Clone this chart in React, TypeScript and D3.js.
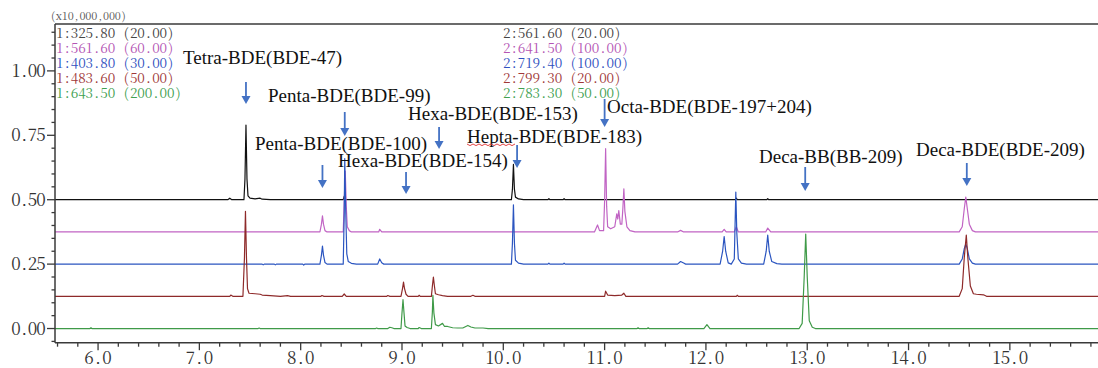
import React from "react";
import * as d3 from "d3";

// retention time (min) vs signal above each trace's own baseline (x10,000,000)
const trace325: [number, number][] = [
  [5.575, 0], [7.28, 0], [7.3, 0.006], [7.32, 0], [7.44, 0], [7.45, 0.08], [7.46, 0.29],
  [7.47, 0.08], [7.48, 0.015], [7.5, 0.006], [7.55, 0.003], [7.6, 0.006], [7.62, 0.002],
  [7.7, 0], [8.42, 0], [8.43, 0.014], [8.44, 0], [10.08, 0], [10.09, 0.04], [10.1, 0.137],
  [10.11, 0.04], [10.12, 0.01], [10.15, 0.003], [10.2, 0], [10.44, 0], [10.45, 0.004],
  [10.46, 0], [10.59, 0], [10.6, 0.004], [10.61, 0], [12.29, 0], [12.3, 0.006], [12.31, 0],
  [12.6, 0], [12.61, 0.004], [12.62, 0], [15.9, 0],
];
const trace561: [number, number][] = [
  [5.575, 0], [8.19, 0], [8.205, 0.03], [8.215, 0.062], [8.225, 0.03], [8.24, 0.005],
  [8.26, 0], [8.42, 0], [8.43, 0.12], [8.44, 0.236], [8.45, 0.1], [8.46, 0.02], [8.48, 0.005],
  [8.5, 0], [8.77, 0], [8.78, 0.01], [8.8, 0], [10.9, 0], [10.93, 0.027], [10.95, 0.005],
  [10.99, 0.005], [11.0, 0.12], [11.01, 0.323], [11.02, 0.1], [11.03, 0.02], [11.06, 0.012],
  [11.1, 0.02], [11.12, 0.07], [11.13, 0.05], [11.14, 0.083], [11.155, 0.03], [11.17, 0.03],
  [11.18, 0.09], [11.19, 0.167], [11.2, 0.08], [11.22, 0.02], [11.25, 0.005], [11.3, 0],
  [11.72, 0], [11.75, 0.006], [11.78, 0], [12.16, 0], [12.18, 0.01], [12.2, 0], [12.28, 0],
  [12.3, 0.02], [12.32, 0], [12.59, 0], [12.61, 0.015], [12.64, 0], [14.5, 0], [14.53, 0.02],
  [14.55, 0.09], [14.565, 0.135], [14.58, 0.09], [14.6, 0.03], [14.63, 0.005], [14.66, 0],
  [15.9, 0],
];
const trace403: [number, number][] = [
  [5.575, 0], [7.62, 0], [7.63, -0.003], [7.64, 0], [7.74, 0], [7.75, -0.003], [7.76, 0],
  [8.02, 0], [8.03, -0.004], [8.04, 0], [8.19, 0], [8.205, 0.035], [8.215, 0.07],
  [8.225, 0.035], [8.24, 0.006], [8.26, 0], [8.42, 0], [8.43, 0.2], [8.435, 0.41],
  [8.445, 0.2], [8.455, 0.04], [8.47, 0.01], [8.5, 0.003], [8.55, 0], [8.76, 0], [8.78, 0.02],
  [8.8, 0.005], [8.82, 0], [10.08, 0], [10.09, 0.08], [10.1, 0.23], [10.11, 0.08],
  [10.12, 0.015], [10.15, 0.004], [10.2, 0], [10.44, 0], [10.45, 0.004], [10.46, 0],
  [10.59, 0], [10.6, 0.004], [10.61, 0], [11.72, 0], [11.75, 0.01], [11.78, 0.004], [11.8, 0],
  [12.14, 0], [12.165, 0.05], [12.18, 0.107], [12.195, 0.05], [12.22, 0.005], [12.25, 0],
  [12.28, 0.02], [12.295, 0.28], [12.305, 0.12], [12.32, 0.02], [12.35, 0.004], [12.4, 0],
  [12.57, 0], [12.595, 0.05], [12.61, 0.113], [12.625, 0.05], [12.65, 0.01], [12.7, 0.002],
  [12.75, 0], [14.5, 0], [14.53, 0.02], [14.55, 0.06], [14.565, 0.078], [14.58, 0.06],
  [14.6, 0.02], [14.63, 0.004], [14.66, 0], [15.9, 0],
];
const trace483: [number, number][] = [
  [5.575, 0], [7.3, 0], [7.31, 0.005], [7.33, 0], [7.43, 0], [7.445, 0.15], [7.455, 0.33],
  [7.465, 0.15], [7.475, 0.03], [7.49, 0.012], [7.55, 0.01], [7.6, 0.008], [7.62, 0.005],
  [7.7, 0.003], [7.8, 0], [7.87, 0.003], [7.9, 0], [8.2, 0], [8.21, 0.003], [8.23, 0],
  [8.41, 0], [8.43, 0.009], [8.45, 0], [8.85, 0], [8.86, 0.003], [8.88, 0], [8.99, 0],
  [9.005, 0.03], [9.015, 0.055], [9.025, 0.03], [9.04, 0.008], [9.06, 0], [9.16, 0],
  [9.17, 0.004], [9.18, 0], [9.29, 0], [9.3, 0.04], [9.31, 0.075], [9.32, 0.04],
  [9.33, 0.01], [9.36, 0.006], [9.4, 0.003], [9.45, 0], [9.68, 0], [9.7, 0.004], [9.72, 0],
  [11.0, 0], [11.01, 0.02], [11.03, 0.005], [11.1, 0.003], [11.17, 0.005], [11.19, 0.012],
  [11.21, 0], [12.3, 0], [12.31, 0.004], [12.32, 0], [14.5, 0], [14.53, 0.03], [14.55, 0.15],
  [14.57, 0.238], [14.585, 0.15], [14.61, 0.04], [14.64, 0.01], [14.67, 0.008],
  [14.74, 0.006], [14.77, 0], [15.9, 0],
];
const trace643: [number, number][] = [
  [5.575, 0], [5.92, 0], [5.93, 0.003], [5.94, 0], [7.58, 0], [7.59, 0.002], [7.6, 0],
  [8.74, 0], [8.75, 0.002], [8.76, 0], [8.86, 0], [8.88, 0.005], [8.9, 0.003], [8.92, 0],
  [8.99, 0], [9.0, 0.06], [9.01, 0.112], [9.02, 0.06], [9.03, 0.01], [9.05, 0.004], [9.08, 0],
  [9.16, 0], [9.17, 0.004], [9.19, 0], [9.29, 0], [9.3, 0.065], [9.305, 0.129],
  [9.315, 0.06], [9.33, 0.015], [9.36, 0.01], [9.4, 0.02], [9.42, 0.008], [9.45, 0.008],
  [9.5, 0.003], [9.55, 0.002], [9.6, 0.002], [9.65, 0.012], [9.68, 0.006], [9.72, 0.002],
  [9.8, 0.002], [9.85, 0], [11.32, 0], [11.33, 0.003], [11.34, 0], [11.42, 0],
  [11.43, 0.003], [11.44, 0], [11.98, 0], [12.01, 0.015], [12.04, 0], [12.92, 0],
  [12.95, 0.02], [12.97, 0.2], [12.985, 0.367], [13.0, 0.2], [13.02, 0.03], [13.05, 0.005],
  [13.08, 0], [15.9, 0],
];

const traces = [trace325, trace561, trace403, trace483, trace643];
const baselines = [0.5, 0.375, 0.25, 0.125, 0.0];
const traceColors = ["#111111", "#c164c4", "#2b55c0", "#8e2a2a", "#3f9a48"];
const legendColors = ["#444444", "#b455b4", "#3050c0", "#a03838", "#40a050"];

const legend1 = ["1:325.80 (20.00)", "1:561.60 (60.00)", "1:403.80 (30.00)", "1:483.60 (50.00)", "1:643.50 (200.00)"];
const legend2 = ["2:561.60 (20.00)", "2:641.50 (100.00)", "2:719.40 (100.00)", "2:799.30 (20.00)", "2:783.30 (50.00)"];

const yTicks = [0.0, 0.25, 0.5, 0.75, 1.0];
const xTicks = [6, 7, 8, 9, 10, 11, 12, 13, 14, 15];

const peakNames = [
  "Tetra-BDE(BDE-47)", "Penta-BDE(BDE-99)", "Penta-BDE(BDE-100)", "Hexa-BDE(BDE-154)",
  "Hexa-BDE(BDE-153)", "Hepta-BDE(BDE-183)", "Octa-BDE(BDE-197+204)", "Deca-BB(BB-209)",
  "Deca-BDE(BDE-209)",
];
const peakTimes = [7.46, 8.435, 8.215, 9.04, 9.366, 10.136, 11.0, 12.98, 14.575];

// label layout: text left, text middle y, arrow top, arrow tip
const labelLayout = [
  [183, 57, 82, 104], [268, 95, 112, 136], [255, 143, 165, 188], [338, 160, 172, 194],
  [408, 113, 127, 149], [467, 136, 145, 168], [607, 106, 99, 127], [759, 156, 167, 191],
  [916, 149, 163, 186],
];

const W = 1098;
const H = 368;
const left = 55;
const top = 24;
const bottom = 342.7;
const serif = "Liberation Serif";
const mincho = "Noto Serif CJK JP";
const axisColor = "#3a3a3a";
const arrowColor = "#4472c4";

const x = d3.scaleLinear().domain([5.575, 15.87]).range([left, W]);
const y = d3.scaleLinear().domain([-0.055, 1.182]).range([bottom, top]);

// each character placed in a fixed-width cell, like the instrument software's font
function Mono(props: { x0: number; y: number; s: string; cw: number; size: number; fill: string }) {
  const xs = props.s.split("").map((_, i) => (props.x0 + props.cw * i + props.cw / 2).toFixed(1)).join(" ");
  return (
    <text x={xs} y={props.y} textAnchor="middle" fontFamily={mincho} fontSize={props.size} fill={props.fill}>
      {props.s}
    </text>
  );
}

const App = () => {
  const yMinor = d3.range(-1, 24).map((k) => k * 0.05);
  const xMinor = d3.range(28, 80).map((k) => k * 0.2).filter((t) => x(t) >= left && x(t) <= W);
  const [hx, hy] = labelLayout[5];
  const squiggle = d3.range(17).map((k) => `${hx + k * 3},${hy + 8 + (k % 2 ? 1.6 : 0)}`).join(" ");

  return (
    <svg width={W} height={H} style={{ position: "absolute", left: 0, top: 0, background: "#fff" }}>
      <defs>
        <clipPath id="plot">
          <rect x={left} y={top} width={W - left} height={bottom - top} />
        </clipPath>
      </defs>

      <g clipPath="url(#plot)">
        {traces.map((tr, i) => {
          const line = d3.line<[number, number]>()
            .x((d) => x(d[0]))
            .y((d) => y(d[1] + baselines[i]));
          return (
            <path key={i} d={line(tr) || ""} fill="none" stroke={traceColors[i]}
              strokeWidth={1.2} strokeLinejoin="round" />
          );
        })}
      </g>

      {/* frame */}
      <line x1={left} x2={W} y1={top} y2={top} stroke={axisColor} strokeWidth={1.6} />
      <line x1={left} x2={left} y1={top} y2={bottom} stroke={axisColor} strokeWidth={1.5} />
      <line x1={left} x2={W} y1={bottom} y2={bottom} stroke={axisColor} strokeWidth={1.5} />

      {/* y axis */}
      {yMinor.map((v) => {
        const major = yTicks.some((t) => Math.abs(t - v) < 1e-6);
        return <line key={v} x1={left - (major ? 8 : 3.5)} x2={left} y1={y(v)} y2={y(v)}
          stroke={axisColor} strokeWidth={1.3} />;
      })}
      {yTicks.map((v) => {
        const s = d3.format(".2f")(v);
        return <Mono key={v} x0={45 - s.length * 8.3} y={y(v) + 6} s={s} cw={8.3} size={17} fill="#333" />;
      })}

      {/* x axis */}
      {xMinor.map((t) => {
        const major = xTicks.some((m) => Math.abs(m - t) < 1e-6);
        return <line key={t} x1={x(t)} x2={x(t)} y1={bottom} y2={bottom + (major ? 7.5 : 4)}
          stroke={axisColor} strokeWidth={1.3} />;
      })}
      {xTicks.map((t) => {
        const s = d3.format(".1f")(t);
        return <Mono key={t} x0={x(t) - (s.length * 9) / 2} y={bottom + 21} s={s} cw={9} size={17} fill="#333" />;
      })}

      <Mono x0={50} y={20} s="(x10,000,000)" cw={5.9} size={11} fill="#555" />

      {/* legends */}
      {legend1.map((s, i) => (
        <Mono key={s} x0={56} y={37.5 + i * 15.1} s={s} cw={7.4} size={13.5} fill={legendColors[i]} />
      ))}
      {legend2.map((s, i) => (
        <Mono key={s} x0={503} y={37.5 + i * 15.1} s={s} cw={7.4} size={13.5} fill={legendColors[i]} />
      ))}

      {/* peak labels and arrows */}
      {peakNames.map((name, i) => {
        const [tx, ty, a1, a2] = labelLayout[i];
        const ax = x(peakTimes[i]);
        return (
          <g key={name}>
            <text x={tx} y={ty + 6.5} fontFamily={serif} fontSize={19} fill="#111">{name}</text>
            <line x1={ax} x2={ax} y1={a1} y2={a2 - 7} stroke={arrowColor} strokeWidth={1.8} />
            <path d={`M${ax - 4.5},${a2 - 8}L${ax + 4.5},${a2 - 8}L${ax},${a2}Z`} fill={arrowColor} />
          </g>
        );
      })}
      <polyline points={squiggle} fill="none" stroke="#e03030" strokeWidth={0.9} />
    </svg>
  );
};

export default App;
